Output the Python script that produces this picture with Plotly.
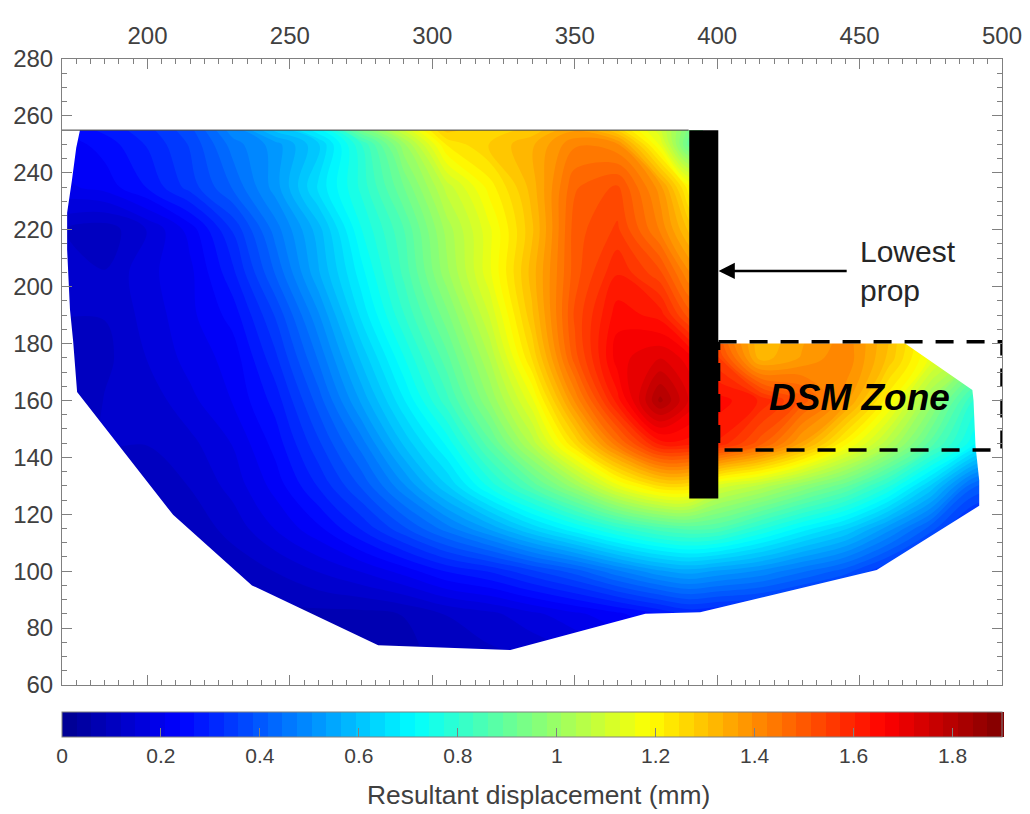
import plotly.graph_objects as go

x_grid = [170,185,200,215,230,245,260,275,290,305,320,335,350,365,380,390,400,415,430,445,460,475,490,505]
y_grid = [70,85,100,115,130,145,160,175,190,205,220,235,250,256]
z_70  = [.10,.10,.10,.08,.08,.08,.08,.07,.08,.10,.11,.12,.14,.17,.20,.22,.22,.22,.20,.20,.20,.20,.20,.20]
z_85  = [.10,.10,.10,.09,.08,.08,.08,.08,.09,.12,.14,.17,.20,.23,.27,.30,.29,.28,.25,.22,.20,.20,.20,.20]
z_100 = [.10,.10,.10,.08,.10,.12,.15,.18,.22,.27,.30,.35,.40,.47,.53,.55,.53,.50,.45,.40,.32,.25,.20,.20]
z_115 = [.10,.10,.08,.10,.13,.18,.23,.30,.38,.46,.54,.63,.71,.79,.85,.87,.86,.78,.70,.63,.52,.40,.28,.25]
z_130 = [.10,.10,.10,.12,.16,.22,.30,.39,.50,.62,.75,.87,1.0,1.15,1.25,1.25,1.12,1.06,.98,.90,.78,.62,.42,.38]
z_145 = [.10,.12,.12,.14,.18,.25,.35,.46,.60,.72,.88,1.05,1.25,1.45,1.62,1.62,1.6,1.5,1.36,1.2,1.05,.88,.72,.60]
z_160 = [.10,.12,.13,.17,.21,.28,.40,.54,.68,.82,.98,1.15,1.4,1.62,1.82,1.72,1.65,1.6,1.5,1.38,1.2,1.0,.80,.72]
z_175 = [.10,.11,.15,.19,.22,.32,.45,.60,.74,.88,1.04,1.25,1.5,1.68,1.72,1.68,1.55,1.32,1.37,1.42,1.3,1.15,1.0,.9]
z_190 = [.12,.12,.16,.20,.25,.36,.50,.66,.80,.94,1.1,1.3,1.52,1.65,1.62,1.5,1.45,1.3,1.35,1.4,1.3,1.15,1.0,.9]
z_205 = [.12,.12,.17,.20,.29,.42,.56,.70,.84,1.0,1.15,1.32,1.5,1.6,1.52,1.4,1.3,1.2,1.2,1.2,1.1,1.0,.9,.8]
z_220 = [.12,.10,.15,.22,.33,.46,.58,.74,.86,1.02,1.15,1.3,1.5,1.55,1.42,1.3,1.2,1.1,1.1,1.1,1.0,.9,.8,.7]
z_235 = [.20,.22,.27,.34,.42,.52,.66,.78,.92,1.08,1.2,1.32,1.48,1.52,1.38,1.2,1.2,1.1,1.1,1.1,1.0,.9,.8,.7]
z_250 = [.22,.25,.30,.36,.46,.52,.62,.80,1.0,1.22,1.28,1.33,1.42,1.4,1.15,.9,.9,.9,.9,.9,.9,.9,.8,.7]
z_256 = [.25,.28,.32,.38,.50,.62,.72,.95,1.12,1.3,1.25,1.28,1.35,1.25,1.1,.95,.9,.9,.9,.9,.9,.9,.8,.7]
z_rows = [z_70,z_85,z_100,z_115,z_130,z_145,z_160,z_175,z_190,z_205,z_220,z_235,z_250,z_256]

outline_x = [176.3,175,173.5,171.8,171.8,172.8,173.9,175.3,209,236.7,281,327.4,374.8,394,456,492,492,490.7,490,489.6,466,400.4,395,395,176.3]
outline_y = [255,248.8,237.5,226,213,192,181,163,119.8,95,74,72.3,85,85.6,100.4,123,132,144,160,163.7,180,180,180,255,255]
frame_x = [170,170,500,500,170]
frame_y = [60,280,280,60,60]

wall_x = [390.2,400.4,400.4,390.2,390.2]
wall_y = [255,255,125.5,125.5,255]
top_line_x, top_line_y = [170,390], [255,255]
zone_x = [400.5,500,500,400.5,400.5]
zone_y = [180.6,180.6,142.6,142.6,180.6]

colorbar_ticks = [0,.2,.4,.6,.8,1,1.2,1.4,1.6,1.8]
jet = [[0,"rgb(0,0,143)"],[.125,"rgb(0,0,255)"],[.375,"rgb(0,255,255)"],[.625,"rgb(255,255,0)"],[.875,"rgb(255,0,0)"],[1,"rgb(128,0,0)"]]
TXT = "#404040"; AX = "#808080"; FONT = "Liberation Sans"

fig = go.Figure()
fig.add_trace(go.Contour(
    x=x_grid, y=y_grid, z=z_rows, colorscale=jet, zmin=0, zmax=1.9, autocontour=False,
    contours=dict(start=0, end=1.9, size=1.9/64, coloring="fill"),
    line=dict(width=0, smoothing=1), hoverinfo="skip",
    colorbar=dict(orientation="h", x=0, xanchor="left", y=-0.0431, yanchor="top", xref="paper", yref="paper",
                  len=1, lenmode="fraction", thickness=25, xpad=0, ypad=0,
                  outlinecolor=AX, outlinewidth=1, ticks="inside", ticklen=9, tickcolor=AX,
                  tickvals=colorbar_ticks, tickfont=dict(family=FONT, size=21, color=TXT))))
fig.add_trace(go.Scatter(x=frame_x+outline_x+frame_x[:1], y=frame_y+outline_y+frame_y[:1], mode="none", fill="toself",
                         fillcolor="white", hoverinfo="skip", showlegend=False))
fig.add_trace(go.Scatter(x=top_line_x, y=top_line_y, mode="lines", line=dict(color="#333333", width=1), showlegend=False))
fig.add_trace(go.Scatter(x=wall_x, y=wall_y, mode="none", fill="toself", fillcolor="black", showlegend=False))
fig.add_trace(go.Scatter(x=zone_x, y=zone_y, mode="lines", line=dict(color="black", width=3.5, dash="18px,13px"), showlegend=False, cliponaxis=False))

axis = dict(showgrid=False, zeroline=False, showline=True, linecolor=AX, linewidth=1, mirror="allticks",
            ticks="inside", tickcolor=AX, ticklen=10, tickfont=dict(family=FONT, size=24, color=TXT))
minor = dict(ticks="inside", ticklen=5, dtick=5, tickcolor=AX, showgrid=False)
fig.update_layout(
    width=1030, height=814, margin=dict(l=62, r=28, t=59, b=129, autoexpand=False), paper_bgcolor="white", plot_bgcolor="white", showlegend=False,
    xaxis=dict(axis, range=[170,500], side="top", dtick=50, tick0=200, minor=minor, ticklabelstandoff=4),
    yaxis=dict(axis, range=[60,280], dtick=20, tick0=60, minor=minor, ticklabelstandoff=3),
    annotations=[
        dict(x=400.5, y=205.5, ax=446, ay=205.5, axref="x", ayref="y", xref="x", yref="y", text="", showarrow=True,
             arrowhead=2, arrowsize=1.3, arrowwidth=2.5, arrowcolor="black"),
        dict(x=449.5, y=205.5, xref="x", yref="y", xanchor="left", align="left", showarrow=False, text="Lowest<br>prop",
             font=dict(family=FONT, size=30, color="#262626")),
        dict(x=450, y=161, xref="x", yref="y", showarrow=False, text="<b><i>DSM Zone</i></b>",
             font=dict(family=FONT, size=37, color="black")),
        dict(x=0.5069, y=-0.1757, xref="paper", yref="paper", xanchor="center", yanchor="middle", showarrow=False,
             text="Resultant displacement (mm)", font=dict(family=FONT, size=26.4, color=TXT)),
    ])
fig.write_html("out.html", post_script="document.body.style.margin='0';", config=dict(displayModeBar=False))
